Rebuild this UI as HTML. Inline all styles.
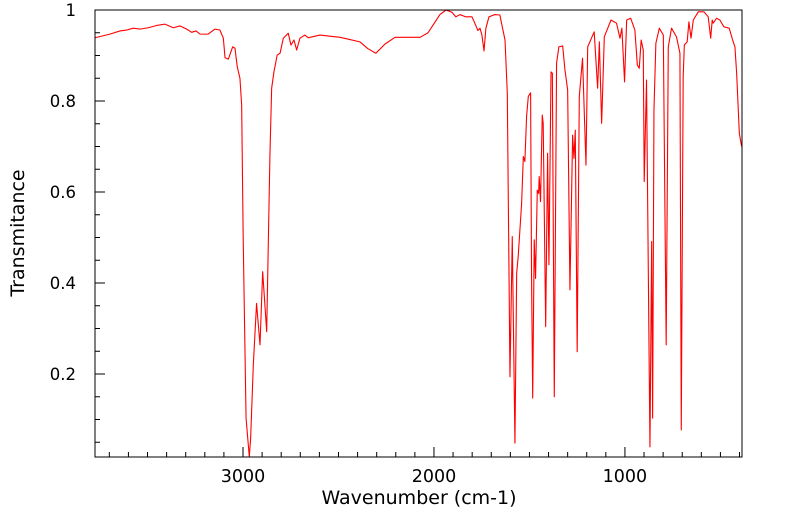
<!DOCTYPE html>
<html><head><meta charset="utf-8"><style>
body{margin:0;background:#fff;}
svg{display:block;font-family:"DejaVu Sans","Liberation Sans",sans-serif;}
</style></head><body>
<svg id="chart" width="799" height="516" viewBox="0 0 799 516"></svg>
<script>
const wavenumbers = [3775,3697,3644,3609,3574,3539,3496,3452,3409,3365,3330,3295,3269,3246,3225,3182,3147,3121,3103,3094,3077,3054,3042,3030,3016,3007,2999,2984,2967,2960,2946,2929,2911,2897,2876,2859,2850,2838,2821,2806,2789,2763,2749,2733,2719,2702,2676,2658,
2649,2597,2492,2440,2388,2346,2304,2257,2204,2126,2073,2031,2000,1969,1937,1906,1885,1864,1833,1801,1785,1770,1759,1749,1738,1728,1712,1681,
1655,1628,1616,1602,1590,1576,1567,1559,1541,1532,1524,1515,1506,1494,1489,1483,1475,1468,1459,1452,1449,1442,1433,1428,1415,1405,1398,1387,1380,1370,1358,1346,1326,1314,1309,1300,1288,1274,1267,1260,1250,1239,1222,1204,1195,1161,1143,1134,1122,1108,1073,1044,1026,1016,1002,991,970,948,935,925,915,904,899,887,869,860,855,848,838,820,799,784,773,756,730,712,705,695,689,674,665,654,642,616,586,564,551,543,538,520,503,482,454,436,424,415,401,389];
const transmittance = [.939,.947,.954,.956,.960,.958,.961,.966,.969,.961,.965,.958,.951,.954,.947,.947,.958,.956,.938,.895,.892,.919,.916,.875,.850,.791,.498,.103,.018,.059,.220,.355,.264,.425,.293,.681,.828,.864,.901,.905,.938,.949,.923,.934,.912,.938,.945,.939,
.94,.945,.94,.935,.93,.915,.905,.925,.94,.94,.94,.95,.97,.99,1.0,.995,.985,.99,.985,.985,.97,.955,.96,.945,.91,.96,.985,.99,
.989,.934,.817,.194,.502,.048,.421,.458,.575,.678,.667,.766,.810,.818,.414,.147,.495,.410,.604,.597,.634,.579,.769,.751,.304,.685,.440,.864,.861,.150,.883,.919,.921,.868,.853,.824,.385,.725,.674,.736,.249,.810,.894,.659,.919,.952,.828,.930,.751,.941,.978,.971,.938,.960,.842,.978,.982,.956,.879,.872,.934,.912,.623,.846,.040,.491,.103,.780,.927,.960,.945,.264,.919,.960,.941,.905,.077,.853,.923,.930,.974,.938,.978,.996,.996,.985,.938,.978,.971,.982,.978,.963,.960,.934,.919,.861,.729,.700];
const xTickLabels = [3000,2000,1000];
const yTickLabels = [0.2,0.4,0.6,0.8,1];

const L=95,R=742,T=10,B=457;
const wMax=3775,wMin=387,tMin=0.0176,tMax=1;
const xs=w=>L+(wMax-w)/(wMax-wMin)*(R-L);
const ys=t=>B-(t-tMin)/(tMax-tMin)*(B-T);
const NS='http://www.w3.org/2000/svg';
const svg=document.getElementById('chart');
function mk(tag,attrs,parent){const e=document.createElementNS(NS,tag);for(const k in attrs)e.setAttribute(k,attrs[k]);(parent||svg).appendChild(e);return e;}

let d='';
for(let i=0;i<wavenumbers.length;i++){d+=(i?'L':'M')+xs(wavenumbers[i]).toFixed(2)+','+ys(transmittance[i]).toFixed(2);}
const line=mk('path',{d:d,fill:'none',stroke:'#ff0000','stroke-width':1.1,'stroke-linejoin':'round'});



const frame=mk('rect',{x:L,y:T,width:R-L,height:B-T,fill:'none',stroke:'#000','stroke-width':1});



for(let w=400;w<=3700;w+=100){
  const x=xs(w);const major=w%1000===0;
  const t=mk('line',{x1:x,x2:x,y1:B,y2:B-(major?10:5),stroke:'#000','stroke-width':1});
  
  
}
xTickLabels.forEach(v=>{
  const t=mk('text',{x:xs(v),y:B+25,'text-anchor':'middle','font-size':17.5,fill:'#000'});
  t.textContent=v;
  
  
});
for(let k=1;k<=20;k++){
  const v=k*0.05;const y=ys(v);const major=k%4===0;
  const t=mk('line',{x1:L,x2:L+(major?10:5),y1:y,y2:y,stroke:'#000','stroke-width':1});
  
  
}
yTickLabels.forEach(v=>{
  const t=mk('text',{x:L-19,y:ys(v)+6,'text-anchor':'end','font-size':16.5,fill:'#000'});
  t.textContent=(v===1?'1':v.toFixed(1));
  
  
});
const xt=mk('text',{x:419,y:504,'text-anchor':'middle','font-size':19,fill:'#000'});
xt.textContent='Wavenumber (cm-1)';


const yt=mk('text',{x:0,y:0,'text-anchor':'middle','font-size':19,fill:'#000',transform:'translate(24,233) rotate(-90)'});
yt.textContent='Transmitance';


</script>
</body></html>
